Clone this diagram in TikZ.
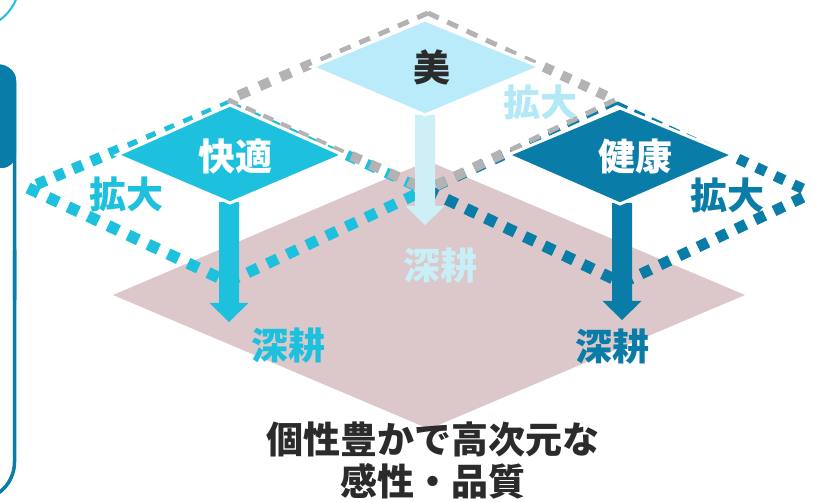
\documentclass[tikz,border=0pt]{standalone}
\usepackage{fontspec}
\newfontfamily\cjk{Noto Sans CJK JP}
\usetikzlibrary{calc}
\definecolor{cy}{HTML}{1DC1DE}
\definecolor{db}{HTML}{0A7CA8}
\definecolor{lb}{HTML}{B9EBFB}
\definecolor{la}{HTML}{CDEFF6}
\definecolor{gr}{HTML}{B3B3B3}
\definecolor{pk}{HTML}{DCC8CB}
\definecolor{lt}{HTML}{B3E9F6}
\definecolor{ls}{HTML}{C8EEF6}
\definecolor{tx}{HTML}{2B2B2B}
% dashed run: from, to, width, colour, number of dashes, dash fraction
\newcommand\dashrun[6]{%
  \foreach \tpk in {1,...,#5}{%
    \pgfmathsetmacro\tpA{(\tpk-1)/#5}%
    \pgfmathsetmacro\tpB{(\tpk-1+#6)/#5}%
    \draw[#4, line width=#3pt] ($(#1)!\tpA!(#2)$) -- ($(#1)!\tpB!(#2)$);
  }}
% block arrow: from, to, colour
\newcommand\blockarrow[3]{%
  \fill[#3] ($(#1)+(-10,0)$) -- ($(#2)+(-10,-19)$) -- ($(#2)+(-19.5,-19)$) -- (#2)
    -- ($(#2)+(19.5,-19)$) -- ($(#2)+(10,-19)$) -- ($(#1)+(10,0)$) -- cycle;}
\tikzset{
  lbl/.style={inner sep=0pt, font=\cjk\bfseries\fontsize{37}{42}\selectfont},
  soliddia/.style={draw=white, line width=3pt, line join=miter},
}
\begin{document}
\begin{tikzpicture}[x=1pt,y=-1pt]
\useasboundingbox (0,0) rectangle (828,502);
\clip (0,0) rectangle (828,502);
\fill[white] (0,0) rectangle (828,502);
% left frame
\draw[cy, line width=2pt] (-30,-20) circle[radius=50];
\fill[db, rounded corners=14] (-60,66) -- (16,66) -- (16,168) -- (-60,168) -- cycle;
\draw[db, line width=3.5pt, rounded corners=16] (-60,66) -- (14.5,66) -- (14.5,300);
\draw[db, line width=3.5pt, rounded corners=38] (14.5,250) -- (14.5,500) -- (-60,500);
% base plane
\fill[pk] (113,295) -- (428,161) -- (745,295) -- (429,429) -- cycle;
% outline corners
\coordinate (gT) at (428,13);  \coordinate (gL) at (228,100);
\coordinate (gR) at (615,100); \coordinate (gB) at (427,190);
\coordinate (cT) at (230,103); \coordinate (cL) at (28,188);
\coordinate (cR) at (425,190); \coordinate (cB) at (228,282);
\coordinate (dT) at (617,103); \coordinate (dL) at (427,190);
\coordinate (dR) at (812,193); \coordinate (dB) at (622,283);
% split points
\coordinate (cTLs) at ($(cT)!0.55!(cL)$);
\coordinate (cTRs) at ($(cT)!0.60!(cR)$);
\coordinate (dTLs) at ($(dT)!0.60!(dL)$);
\coordinate (dTRs) at ($(dT)!0.62!(dR)$);
\coordinate (gTLs) at ($(gT)!0.58!(gL)$);
\coordinate (gTRs) at ($(gT)!0.62!(gR)$);
\coordinate (gLBs) at ($(gL)!0.62!(gB)$);
\coordinate (gRBs) at ($(gR)!0.60!(gB)$);
% cyan outline
\dashrun{cT}{cTLs}{7}{cy}{6}{0.5}
\dashrun{cTLs}{cL}{11}{cy}{5}{0.52}
\dashrun{cT}{cTRs}{4}{cy}{6}{0.55}
\dashrun{cTRs}{cR}{10.5}{cy}{4}{0.5}
\dashrun{cL}{cB}{11.5}{cy}{10}{0.52}
\dashrun{cB}{cR}{11}{cy}{10}{0.52}
% dark outline
\dashrun{dT}{dTLs}{3.5}{db}{6}{0.6}
\dashrun{dTLs}{dL}{10.5}{db}{4}{0.5}
\dashrun{dT}{dTRs}{3.5}{db}{7}{0.6}
\dashrun{dTRs}{dR}{10.5}{db}{4}{0.5}
\dashrun{dL}{dB}{11.5}{db}{10}{0.52}
\dashrun{dB}{dR}{11}{db}{10}{0.52}
% gray outline
\dashrun{gT}{gTLs}{5}{gr}{6}{0.55}
\dashrun{gTLs}{gL}{10}{gr}{4}{0.5}
\dashrun{gT}{gTRs}{5}{gr}{6}{0.55}
\dashrun{gTRs}{gR}{10}{gr}{4}{0.5}
\dashrun{gL}{gLBs}{5}{gr}{7}{0.55}
\dashrun{gLBs}{gB}{10}{gr}{4}{0.5}
\dashrun{gR}{gRBs}{5}{gr}{6}{0.55}
\dashrun{gRBs}{gB}{10}{gr}{4}{0.5}
% arrows
\coordinate (mB) at (425,115); \coordinate (mTip) at (425,225);
\coordinate (kB) at (229,202); \coordinate (kTip) at (229,322);
\coordinate (hB) at (622,203); \coordinate (hTip) at (622,320);
\blockarrow{mB}{mTip}{la}
\blockarrow{kB}{kTip}{cy}
\blockarrow{hB}{hTip}{db}
% solid diamonds
\draw[soliddia, fill=lb] (425,20) -- (540,67) -- (425,115) -- (312,67) -- cycle;
\draw[soliddia, fill=cy] (230,105) -- (343,155) -- (230,203) -- (117,155) -- cycle;
\draw[soliddia, fill=db] (620,108) -- (733,155) -- (620,204) -- (508,155) -- cycle;
% labels
\node[lbl, text=tx] (mei) at (432,67) {美};
\node[lbl, text=white] (kaiteki) at (235,157) {快適};
\node[lbl, text=white] (kenko) at (635,157) {健康};
\node[lbl, text=cy] (kakL) at (126,194) {拡大};
\node[lbl, text=lt] (kakT) at (540,102) {拡大};
\node[lbl, text=db] (kakR) at (727,195) {拡大};
\node[lbl, text=ls] (shinM) at (440,266) {深耕};
\node[lbl, text=cy] (shinL) at (288,346) {深耕};
\node[lbl, text=db] (shinR) at (612,347) {深耕};
\node[lbl, text=tx] (b1) at (433,439) {個性豊かで高次元な};
\node[lbl, text=tx] (b2) at (433,481) {感性・品質};
\end{tikzpicture}
\end{document}
